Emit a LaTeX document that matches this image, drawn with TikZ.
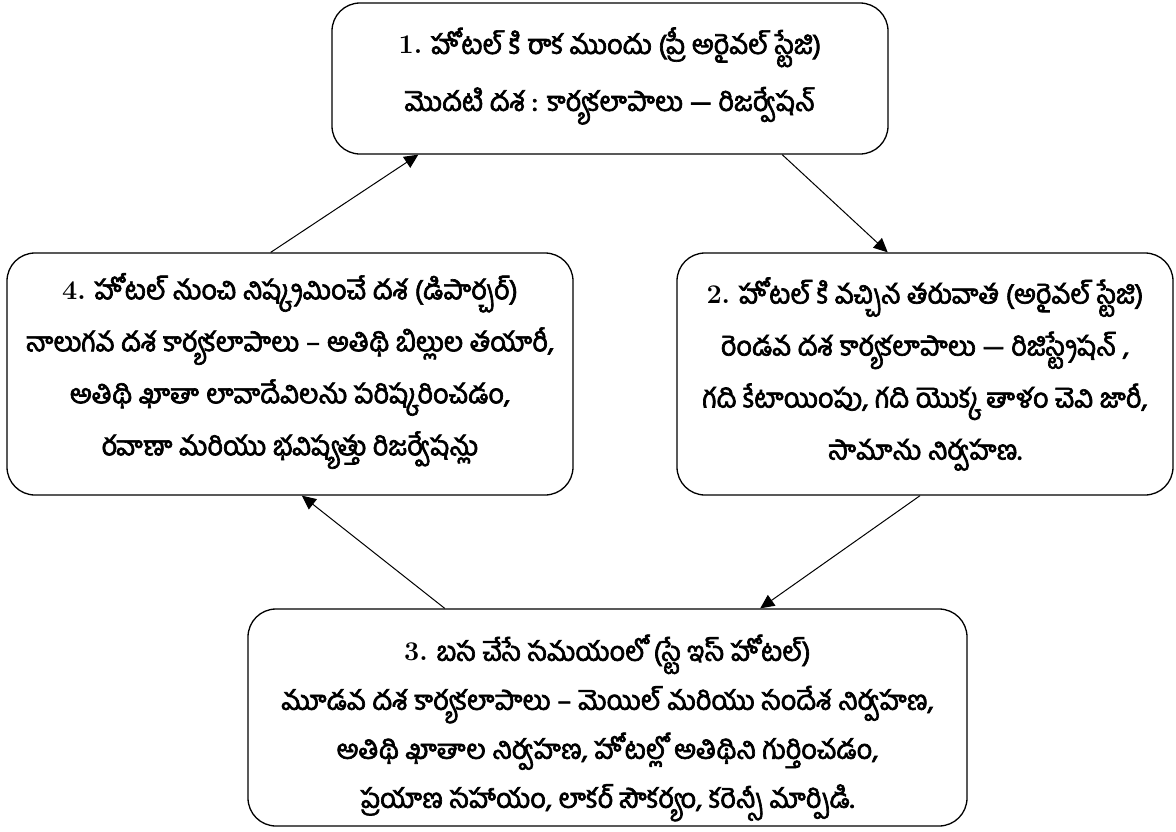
\documentclass[tikz,border=0pt]{standalone}
\usepackage{fontspec}
\newfontfamily\te[Script=Telugu,AutoFakeBold=2.5]{Hind Guntur}
\usetikzlibrary{arrows.meta,calc}
\newcommand\nm[1]{{\normalfont\bfseries #1}}
\tikzset{
  box/.style={draw, line width=1.3pt, rounded corners=28pt, inner sep=0pt},
  txt/.style={align=center, inner sep=0pt, font=\te\bfseries\fontsize{27}{52}\selectfont},
  conn/.style={line width=1pt, -{Triangle[length=14pt,width=13pt]}}
}
\begin{document}
\begin{tikzpicture}[x=1pt,y=-1pt]
\useasboundingbox (0,0) rectangle (1176,831);
\node[box, minimum width=556pt, minimum height=151pt] (b1) at (610,78.5) {};
\node[txt, font=\te\bfseries\fontsize{27}{57}\selectfont] (t1) at (610,76)
  {\nm{1.} హోటల్ కి రాక ముందు (ప్రీ అరైవల్ స్టేజి)\\మొదటి దశ : కార్యకలాపాలు — రిజర్వేషన్};
\node[box, minimum width=566pt, minimum height=242pt] (b4) at (290,374) {};
\node[txt] (t4) at (290,371)
  {\nm{4.} హోటల్ నుంచి నిష్క్రమించే దశ (డిపార్చర్)\\నాలుగవ దశ కార్యకలాపాలు – అతిథి బిల్లుల తయారీ,\\అతిథి ఖాతా లావాదేవిలను పరిష్కరించడం,\\రవాణా మరియు భవిష్యత్తు రిజర్వేషన్లు};
\node[box, minimum width=496pt, minimum height=242pt] (b2) at (925,374) {};
\node[txt] (t2) at (925,374)
  {\nm{2.} హోటల్ కి వచ్చిన తరువాత (అరైవల్ స్టేజి)\\రెండవ దశ కార్యకలాపాలు — రిజిస్ట్రేషన్ ,\\గది కేటాయింపు, గది యొక్క తాళం చెవి జారీ,\\సామాను నిర్వహణ.};
\node[box, minimum width=719pt, minimum height=217pt] (b3) at (607.5,717.5) {};
\node[txt, font=\te\bfseries\fontsize{27}{49}\selectfont] (t3) at (607.5,728)
  {\nm{3.} బస చేసే సమయంలో (స్టే ఇస్ హోటల్)\\మూడవ దశ కార్యకలాపాలు – మెయిల్ మరియు సందేశ నిర్వహణ,\\అతిథి ఖాతాల నిర్వహణ, హోటల్లో అతిథిని గుర్తించడం,\\ప్రయాణ సహాయం, లాకర్ సౌకర్యం, కరెన్సీ మార్పిడి.};
\draw[conn] ($(b4.north west)!0.466!(b4.north east)$) -- ($(b1.south west)!0.156!(b1.south east)$);
\draw[conn] ($(b1.south west)!0.809!(b1.south east)$) -- ($(b2.north west)!0.425!(b2.north east)$);
\draw[conn] ($(b2.south west)!0.49!(b2.south east)$) -- ($(b3.north west)!0.712!(b3.north east)$);
\draw[conn] ($(b3.north west)!0.274!(b3.north east)$) -- ($(b4.south west)!0.521!(b4.south east)$);
\end{tikzpicture}
\end{document}
